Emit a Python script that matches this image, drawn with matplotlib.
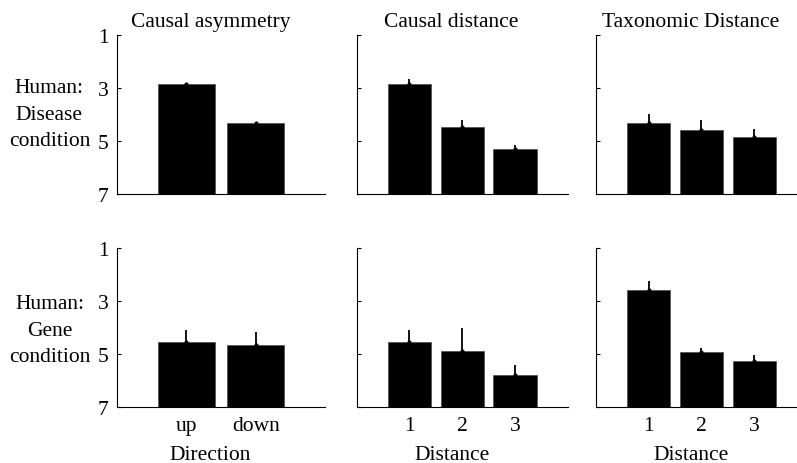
import matplotlib
matplotlib.use("Agg")
import matplotlib.pyplot as plt
import numpy as np

plt.rcParams['font.family'] = ['Liberation Serif', 'DejaVu Serif']

titles = ["Causal asymmetry", "Causal distance", "Taxonomic Distance"]
row_labels = ["Human:\nDisease\ncondition", "Human:\nGene\ncondition"]
xlabels = ["Direction", "Distance", "Distance"]
xticklabels = [["up", "down"], ["1", "2", "3"], ["1", "2", "3"]]

# mean ratings (1 = top of scale, 7 = bottom)
disease_asym = [2.85, 4.3]
disease_asym_err = [0.04, 0.04]
disease_causal = [2.85, 4.48, 5.3]
disease_causal_err = [0.19, 0.29, 0.16]
disease_taxo = [4.33, 4.57, 4.86]
disease_taxo_err = [0.35, 0.37, 0.33]

gene_asym = [4.54, 4.67]
gene_asym_err = [0.45, 0.48]
gene_causal = [4.54, 4.9, 5.8]
gene_causal_err = [0.44, 0.88, 0.38]
gene_taxo = [2.59, 4.94, 5.29]
gene_taxo_err = [0.35, 0.15, 0.23]

rows = [
    [(disease_asym, disease_asym_err), (disease_causal, disease_causal_err), (disease_taxo, disease_taxo_err)],
    [(gene_asym, gene_asym_err), (gene_causal, gene_causal_err), (gene_taxo, gene_taxo_err)],
]

fig = plt.figure(figsize=(7.97, 4.64), dpi=100)

lefts = [0.1468, 0.4476, 0.7478]
widths = [0.261, 0.2647, 0.2647]
bottoms = [0.5797, 0.1213]
height = 0.342
fs = 15.5

for r in range(2):
    for c in range(3):
        ax = fig.add_axes([lefts[c], bottoms[r], widths[c], height])
        vals, errs = rows[r][c]
        x = np.arange(1, len(vals) + 1)
        vals = np.array(vals)
        ax.bar(x, 7 - vals, bottom=vals, width=0.82, color='black',
               edgecolor='#555555', linewidth=0.6)
        ax.errorbar(x, vals, yerr=[errs, np.zeros(len(errs))], fmt='.',
                    color='black', ms=4, capsize=0, elinewidth=1.3)
        ax.set_xlim(0, len(vals) + 1)
        ax.set_ylim(7, 1)
        ax.set_yticks([1, 3, 5, 7])
        ax.spines['top'].set_visible(False)
        ax.spines['right'].set_visible(False)
        ax.tick_params(axis='y', direction='in', length=3, pad=6, labelsize=fs)
        ax.tick_params(axis='x', length=0, pad=7, labelsize=fs)
        if c > 0:
            ax.set_yticklabels([])
        if r == 1:
            ax.set_xticks(x)
            ax.set_xticklabels(xticklabels[c])
            ax.text(0.45, -0.3, xlabels[c], transform=ax.transAxes,
                    ha='center', va='center', fontsize=fs)
        else:
            ax.set_xticks([])
            ax.text(0.45, 1.0 + 9 / 158.0, titles[c], transform=ax.transAxes,
                    ha='center', va='baseline', fontsize=fs)

fig.text(0.062, 0.752, row_labels[0], ha='center', va='center',
         multialignment='center', fontsize=fs, linespacing=1.55)
fig.text(0.063, 0.2866, row_labels[1], ha='center', va='center',
         multialignment='center', fontsize=fs, linespacing=1.55)

fig.savefig("out.png", dpi=100)
